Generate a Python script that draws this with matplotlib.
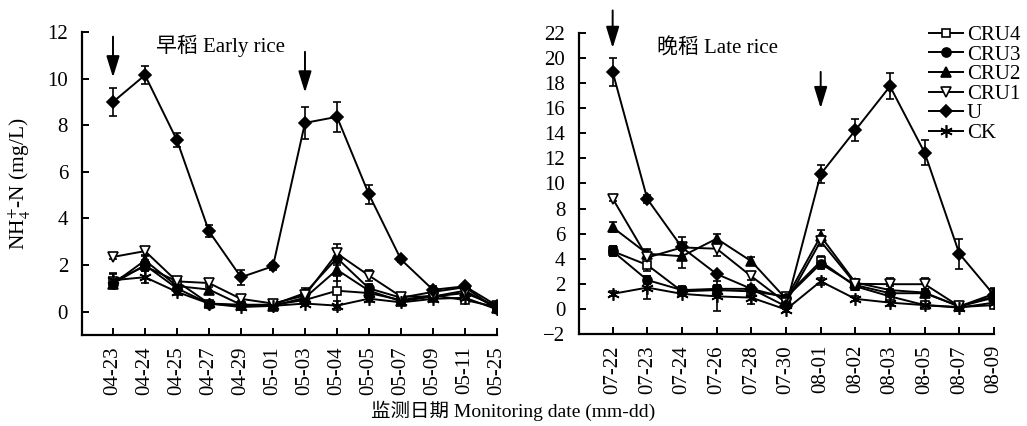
import matplotlib
matplotlib.use('Agg')
import matplotlib.pyplot as plt

plt.rcParams['font.family'] = ['Liberation Serif', 'Noto Sans CJK SC']
plt.rcParams['mathtext.fontset'] = 'stix'

# Early rice
early_dates = ['04-23', '04-24', '04-25', '04-27', '04-29', '05-01', '05-03',
               '05-04', '05-05', '05-07', '05-09', '05-11', '05-25']
early_cru4 = [1.3, 1.95, 1.3, 0.35, 0.25, 0.3, 0.5, 0.9, 0.8, 0.5, 0.7, 0.5, 0.2]
early_cru3 = [1.2, 2.0, 1.0, 0.35, 0.3, 0.3, 0.8, 2.3, 1.0, 0.6, 0.85, 1.05, 0.1]
early_cru2 = [1.2, 2.2, 1.1, 0.95, 0.3, 0.25, 0.6, 1.8, 0.9, 0.45, 0.65, 0.9, 0.15]
early_cru1 = [2.35, 2.6, 1.3, 1.23, 0.55, 0.35, 0.7, 2.5, 1.55, 0.65, 0.65, 0.8, 0.25]
early_u = [9.0, 10.15, 7.35, 3.45, 1.48, 1.95, 8.1, 8.36, 5.03, 2.24, 0.94, 1.09, 0.26]
early_ck = [1.35, 1.48, 0.85, 0.35, 0.2, 0.25, 0.35, 0.26, 0.56, 0.4, 0.55, 0.6, 0.1]

early_cru4_err = [0.3, 0.2, 0.15, 0.1, 0.1, 0.05, 0.2, 0.65, 0.2, 0.1, 0.1, 0.1, 0.1]
early_cru3_err = [0.2, 0.2, 0.15, 0.1, 0.05, 0.05, 0.2, 0.3, 0.2, 0.1, 0.1, 0.1, 0.05]
early_cru2_err = [0.2, 0.2, 0.1, 0.1, 0.05, 0.05, 0.1, 0.5, 0.2, 0.1, 0.1, 0.1, 0.05]
early_cru1_err = [0.1, 0.15, 0.15, 0.1, 0.1, 0.05, 0.1, 0.4, 0.25, 0.1, 0.1, 0.1, 0.1]
early_u_err = [0.6, 0.4, 0.3, 0.25, 0.33, 0.15, 0.7, 0.65, 0.4, 0.1, 0.15, 0.1, 0.1]
early_ck_err = [0.3, 0.25, 0.15, 0.05, 0.1, 0.05, 0.1, 0.2, 0.15, 0.1, 0.1, 0.1, 0.05]

# Late rice
late_dates = ['07-22', '07-23', '07-24', '07-26', '07-28', '07-30',
              '08-01', '08-02', '08-03', '08-05', '08-07', '08-09']
late_cru4 = [4.6, 3.5, 1.4, 1.5, 1.4, 1.0, 3.8, 1.8, 1.0, 0.3, 0.15, 0.3]
late_cru3 = [4.6, 2.3, 1.5, 1.6, 1.6, 0.9, 3.6, 1.9, 1.25, 1.25, 0.2, 0.9]
late_cru2 = [6.5, 4.4, 4.2, 5.6, 3.8, 0.8, 5.8, 2.1, 1.5, 1.3, 0.2, 1.0]
late_cru1 = [8.8, 4.1, 4.9, 4.8, 2.6, 0.5, 5.4, 2.0, 1.97, 1.97, 0.2, 1.2]
late_u = [18.9, 8.76, 4.9, 2.78, 1.6, 0.2, 10.75, 14.25, 17.75, 12.45, 4.4, 1.1]
late_ck = [1.2, 1.7, 1.2, 1.0, 0.9, -0.05, 2.2, 0.8, 0.5, 0.3, 0.1, 0.5]

late_cru4_err = [0.4, 0.5, 0.3, 0.4, 0.3, 0.2, 0.4, 0.3, 0.2, 0.2, 0.1, 0.2]
late_cru3_err = [0.4, 0.3, 0.3, 0.3, 0.3, 0.2, 0.4, 0.3, 0.3, 0.3, 0.1, 0.3]
late_cru2_err = [0.4, 0.4, 0.9, 0.4, 0.3, 0.2, 0.5, 0.3, 0.3, 0.3, 0.1, 0.3]
late_cru1_err = [0.2, 0.6, 0.2, 0.6, 0.3, 0.3, 0.4, 0.3, 0.5, 0.5, 0.1, 0.5]
late_u_err = [1.1, 0.3, 0.8, 0.15, 0.2, 0.2, 0.7, 0.9, 1.05, 1.0, 1.2, 0.2]
late_ck_err = [0.2, 0.9, 0.2, 1.2, 0.5, 0.2, 0.3, 0.2, 0.3, 0.2, 0.1, 0.2]

labels = ['CRU4', 'CRU3', 'CRU2', 'CRU1', 'U', 'CK']
markers = ['s', 'o', '^', 'v', 'D', (6, 2, 0)]
faces = ['white', 'black', 'black', 'white', 'black', 'black']
msizes = [6, 6.5, 7, 7, 6.5, 9]

# fertilization arrows: (category index, top, tip)
early_arrows = [(0, 11.8, 10.05), (6, 11.15, 9.4)]
late_arrows = [(0, 23.8, 20.8), (6, 18.9, 16.0)]

fig = plt.figure(figsize=(10.27, 4.26), dpi=100)
ax1 = fig.add_axes([0.0798, 0.2136, 0.4041, 0.7113])
ax2 = fig.add_axes([0.5638, 0.2160, 0.4041, 0.7065])


def draw(ax, dates, series, errs, arrows):
    x = list(range(len(dates)))
    handles = []
    for vals, err, lab, mk, fc, ms in zip(series, errs, labels, markers, faces, msizes):
        ax.errorbar(x, vals, yerr=err, fmt='none', ecolor='black',
                    elinewidth=1.2, capsize=3, capthick=1.2, zorder=2)
        h, = ax.plot(x, vals, color='black', lw=1.4, marker=mk, ms=ms,
                     mfc=fc, mec='black', mew=1.2, label=lab, zorder=3)
        handles.append(h)
    for i, top, tip in arrows:
        ax.annotate('', xy=(i, tip), xytext=(i, top), annotation_clip=False,
                    arrowprops=dict(arrowstyle='-|>,head_length=1.3,head_width=0.4',
                                    color='black', lw=1.4, shrinkA=0, shrinkB=0))
    ax.set_xticks(x)
    ax.set_xticklabels(dates, rotation=90, fontsize=15)
    ax.set_xlim(-0.97, len(dates) - 1)
    ax.spines['top'].set_visible(False)
    ax.spines['right'].set_visible(False)
    ax.spines['left'].set_linewidth(1.6)
    ax.spines['bottom'].set_linewidth(1.6)
    ax.tick_params(axis='both', direction='in', length=5, width=1.4, labelsize=15)
    ax.tick_params(axis='x', pad=8)
    ax.tick_params(axis='y', pad=10)
    return handles


draw(ax1, early_dates,
     [early_cru4, early_cru3, early_cru2, early_cru1, early_u, early_ck],
     [early_cru4_err, early_cru3_err, early_cru2_err, early_cru1_err, early_u_err, early_ck_err],
     early_arrows)
ax1.set_ylim(-1, 12)
ax1.set_yticks(range(0, 13, 2))
ax1.set_ylabel('NH$_4^{+}$-N (mg/L)', fontsize=15.5, labelpad=10)
ax1.text(0.333, 0.955, '早稻 Early rice', transform=ax1.transAxes, ha='center',
         va='center', fontsize=15)

handles = draw(ax2, late_dates,
               [late_cru4, late_cru3, late_cru2, late_cru1, late_u, late_ck],
               [late_cru4_err, late_cru3_err, late_cru2_err, late_cru1_err, late_u_err, late_ck_err],
               late_arrows)
ax2.set_ylim(-2, 22)
ax2.set_yticks(range(-2, 23, 2))
ax2.text(0.333, 0.95, '晚稻 Late rice', transform=ax2.transAxes, ha='center',
         va='center', fontsize=15)

fig.legend(handles=handles, loc='upper left', bbox_to_anchor=(0.905, 0.94),
           frameon=False, fontsize=15, handlelength=1.6, handletextpad=0.2,
           labelspacing=0.0, borderaxespad=0, borderpad=0)

fig.text(0.5, 0.035, '监测日期 Monitoring date (mm-dd)', ha='center', va='center',
         fontsize=14)

fig.savefig('out.png', dpi=100)
